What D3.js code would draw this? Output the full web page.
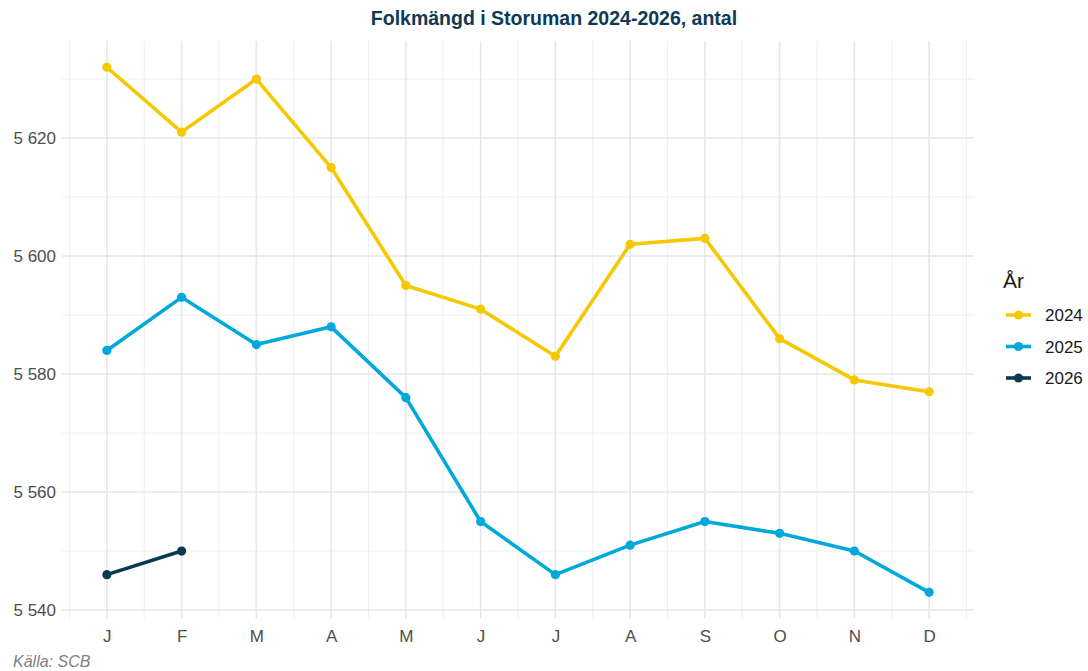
<!DOCTYPE html>
<html>
<head>
<meta charset="utf-8">
<script src="https://cdn.jsdelivr.net/npm/d3@7"></script>
<style>
  body { margin: 0; background: #fff; }
  text { font-family: "Liberation Sans", Arial, sans-serif; }
</style>
</head>
<body>
<div id="chart"></div>
<script>
// data
var months = ["J","F","M","A","M","J","J","A","S","O","N","D"];
var years = ["2024","2025","2026"];
var values2024 = [5632,5621,5630,5615,5595,5591,5583,5602,5603,5586,5579,5577];
var values2025 = [5584,5593,5585,5588,5576,5555,5546,5551,5555,5553,5550,5543];
var values2026 = [5546,5550];
var yTicks = [5540,5560,5580,5600,5620];
var colors = ["#f5c800","#00a8dc","#0b3a50"];

var svgWidth = 1088, svgHeight = 671;
var panel = { left: 62, right: 974, top: 41, bottom: 618.6 };

var svg = d3.select("#chart").append("svg")
  .attr("width", svgWidth)
  .attr("height", svgHeight);

var series = [values2024, values2025, values2026].map(function(vals, i) {
  return { year: years[i], color: colors[i],
    points: vals.map(function(v, j) { return { idx: j, value: v }; }) };
});

// scales (ggplot style expansion: 0.6 step on discrete, 5% on continuous)
var idx = d3.range(months.length);
var x = d3.scalePoint().domain(idx).range([panel.left, panel.right]).padding(0.6);

var allVals = values2024.concat(values2025, values2026);
var ext = d3.extent(allVals);
var pad = (ext[1] - ext[0]) * 0.05;
var y = d3.scaleLinear().domain([ext[0] - pad, ext[1] + pad]).range([panel.bottom, panel.top]);

// gridlines
var grid = svg.append("g");
var step = x.step();
var minorY = d3.range(5530, 5640, 10).filter(function(v) { return v % 20 !== 0 && v > y.domain()[0] && v < y.domain()[1]; });
grid.selectAll(".minory").data(minorY).enter().append("line")
  .attr("x1", panel.left).attr("x2", panel.right)
  .attr("y1", d => y(d)).attr("y2", d => y(d))
  .attr("stroke", "#ebebeb").attr("stroke-width", 0.8);
var minorX = idx.slice(1).map(function(i) { return x(i) - step / 2; });
minorX.unshift(x(0) - step / 2);
minorX.push(x(11) + step / 2);
grid.selectAll(".minorx").data(minorX).enter().append("line")
  .attr("x1", d => d).attr("x2", d => d)
  .attr("y1", panel.top).attr("y2", panel.bottom)
  .attr("stroke", "#ebebeb").attr("stroke-width", 0.8);
grid.selectAll(".majory").data(yTicks).enter().append("line")
  .attr("x1", panel.left).attr("x2", panel.right)
  .attr("y1", d => y(d)).attr("y2", d => y(d))
  .attr("stroke", "#e6e6e6").attr("stroke-width", 1.5);
grid.selectAll(".majorx").data(idx).enter().append("line")
  .attr("x1", d => x(d)).attr("x2", d => x(d))
  .attr("y1", panel.top).attr("y2", panel.bottom)
  .attr("stroke", "#e6e6e6").attr("stroke-width", 1.5);

// axes labels
var fmt = function(v) { return d3.format(",")(v).replace(",", " "); };
var yAxis = svg.append("g")
  .attr("transform", `translate(${panel.left},0)`)
  .call(d3.axisLeft(y).tickValues(yTicks).tickFormat(fmt).tickSize(0).tickPadding(6));
yAxis.select(".domain").remove();
yAxis.selectAll("text").attr("font-size", 17).attr("fill", "#4d4d4d")
  .style("font-family", "'Liberation Sans', Arial, sans-serif");

var xAxis = svg.append("g")
  .attr("transform", `translate(0,${panel.bottom})`)
  .call(d3.axisBottom(x).tickFormat(d => months[d]).tickSize(0).tickPadding(11));
xAxis.select(".domain").remove();
xAxis.selectAll("text").attr("font-size", 17).attr("fill", "#4d4d4d")
  .style("font-family", "'Liberation Sans', Arial, sans-serif");

// lines and points
var line = d3.line().x(d => x(d.idx)).y(d => y(d.value));
var lines = svg.append("g");
series.forEach(function(s) {
  lines.append("path")
    .datum(s.points)
    .attr("d", line)
    .attr("fill", "none")
    .attr("stroke", s.color)
    .attr("stroke-width", 3.6)
    .attr("stroke-linejoin", "round");
  lines.selectAll(null).data(s.points).enter().append("circle")
    .attr("cx", d => x(d.idx))
    .attr("cy", d => y(d.value))
    .attr("r", 4.6)
    .attr("fill", s.color);
});

// title
svg.append("text")
  .attr("x", 554).attr("y", 25)
  .attr("text-anchor", "middle")
  .attr("font-size", 19.5).attr("font-weight", "bold")
  .attr("fill", "#0e3a54")
  .text("Folkmängd i Storuman 2024-2026, antal");

// legend
var legend = svg.append("g").attr("transform", "translate(1003,0)");
legend.append("text").attr("x", 0).attr("y", 288)
  .attr("font-size", 21).attr("fill", "#1a1a1a").text("År");
var item = legend.selectAll(".item").data(series).enter().append("g")
  .attr("transform", (d, i) => `translate(0,${315 + i * 31.5})`);
item.append("line").attr("x1", 3).attr("x2", 28).attr("y1", 0).attr("y2", 0)
  .attr("stroke", d => d.color).attr("stroke-width", 3.6);
item.append("circle").attr("cx", 15.5).attr("cy", 0).attr("r", 4.6).attr("fill", d => d.color);
item.append("text").attr("x", 42).attr("y", 6)
  .attr("font-size", 17).attr("fill", "#1a1a1a").text(d => d.year);

// caption
svg.append("text").attr("x", 13).attr("y", 667)
  .attr("font-size", 16).attr("font-style", "italic").attr("fill", "#808080")
  .text("Källa: SCB");
</script>
</body>
</html>
